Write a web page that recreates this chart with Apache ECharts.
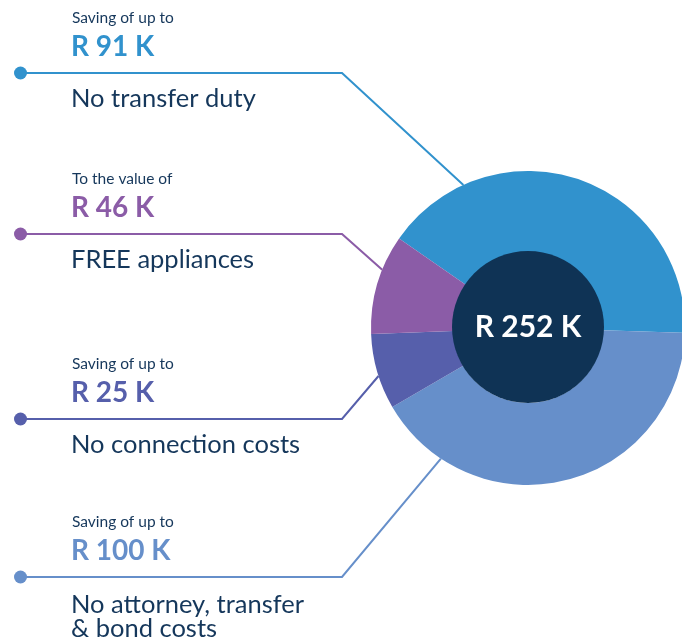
<!DOCTYPE html>
<html>
<head>
<meta charset="utf-8">
<script src="https://cdn.jsdelivr.net/npm/echarts@6/dist/echarts.min.js"></script>
<style>
  html, body { margin: 0; padding: 0; background: #fff; }
  #chart { width: 682px; height: 641px; }
</style>
</head>
<body>
<div id="chart"></div>
<script>
// slice order, clockwise from the top-left
var names = ['No transfer duty', 'No attorney, transfer\n& bond costs', 'No connection costs', 'FREE appliances'];
var sliceShare = [147, 148, 28, 37];           // angular share
var colors = ['#3192cd', '#668fca', '#565fab', '#8b5ca7'];
var totalLabel = 'R 252 K';

// callouts on the left, top to bottom
var calloutSlice = [0, 3, 2, 1];
var introText = ['Saving of up to', 'To the value of', 'Saving of up to', 'Saving of up to'];
var amountText = ['R 91 K', 'R 46 K', 'R 25 K', 'R 100 K'];
var descText = ['No transfer duty', 'FREE appliances', 'No connection costs', 'No attorney, transfer\n& bond costs'];
var leaderY = [73, 234, 419, 577];
var leaderAngle = [114.3, 158.2, 197.8, 236.3];  // where each leader meets the ring

var navy = '#0f3355';
var textNavy = '#15375b';
var font = 'Lato, "Noto Sans", sans-serif';
var cx = 528, cy = 328, rOuter = 157, rInner = 75;

var chart = echarts.init(document.getElementById('chart'));

var graphics = [];
leaderY.forEach(function (y, i) {
    var col = colors[calloutSlice[i]];
    var a = leaderAngle[i] * Math.PI / 180;
    var ex = cx + rOuter * Math.cos(a);
    var ey = cy - rOuter * Math.sin(a);
    graphics.push({
        type: 'polyline', silent: true, z: 1,
        shape: { points: [[20, y], [342, y], [ex, ey]] },
        style: { stroke: col, lineWidth: 2, fill: null }
    });
    graphics.push({
        type: 'circle', silent: true, z: 2,
        shape: { cx: 20.5, cy: y, r: 6.5 },
        style: { fill: col }
    });
    graphics.push({
        type: 'text', silent: true, z: 2, x: 72, y: y - 55,
        style: { text: introText[i], font: '15.5px ' + font, fill: textNavy, verticalAlign: 'middle' }
    });
    graphics.push({
        type: 'text', silent: true, z: 2, x: 71, y: y - 26,
        style: { text: amountText[i], font: 'bold 28px ' + font, fill: col, verticalAlign: 'middle' }
    });
    graphics.push({
        type: 'text', silent: true, z: 2, x: 71, y: y + 14 + (i === 3 ? 2 : 0),
        style: { text: descText[i], font: '25.5px ' + font, fill: textNavy, verticalAlign: 'top', lineHeight: 24 }
    });
});

chart.setOption({
    animation: false,
    backgroundColor: '#fff',
    graphic: graphics,
    series: [
        {
            type: 'pie',
            silent: true,
            center: [cx, cy],
            radius: [rInner, rOuter],
            startAngle: 145.2,
            clockwise: true,
            avoidLabelOverlap: false,
            label: { show: false },
            labelLine: { show: false },
            itemStyle: { borderWidth: 0 },
            data: sliceShare.map(function (v, i) {
                return { name: names[i], value: v, itemStyle: { color: colors[i] } };
            }),
            z: 3
        },
        {
            type: 'pie',
            silent: true,
            center: [cx, cy - 1],
            radius: [0, rInner + 1],
            label: {
                show: true, position: 'center', formatter: totalLabel,
                color: '#fff', fontSize: 30, fontWeight: 'bold', fontFamily: font
            },
            labelLine: { show: false },
            data: [{ name: 'total', value: 1, itemStyle: { color: navy } }],
            z: 4
        }
    ]
});
</script>
</body>
</html>
